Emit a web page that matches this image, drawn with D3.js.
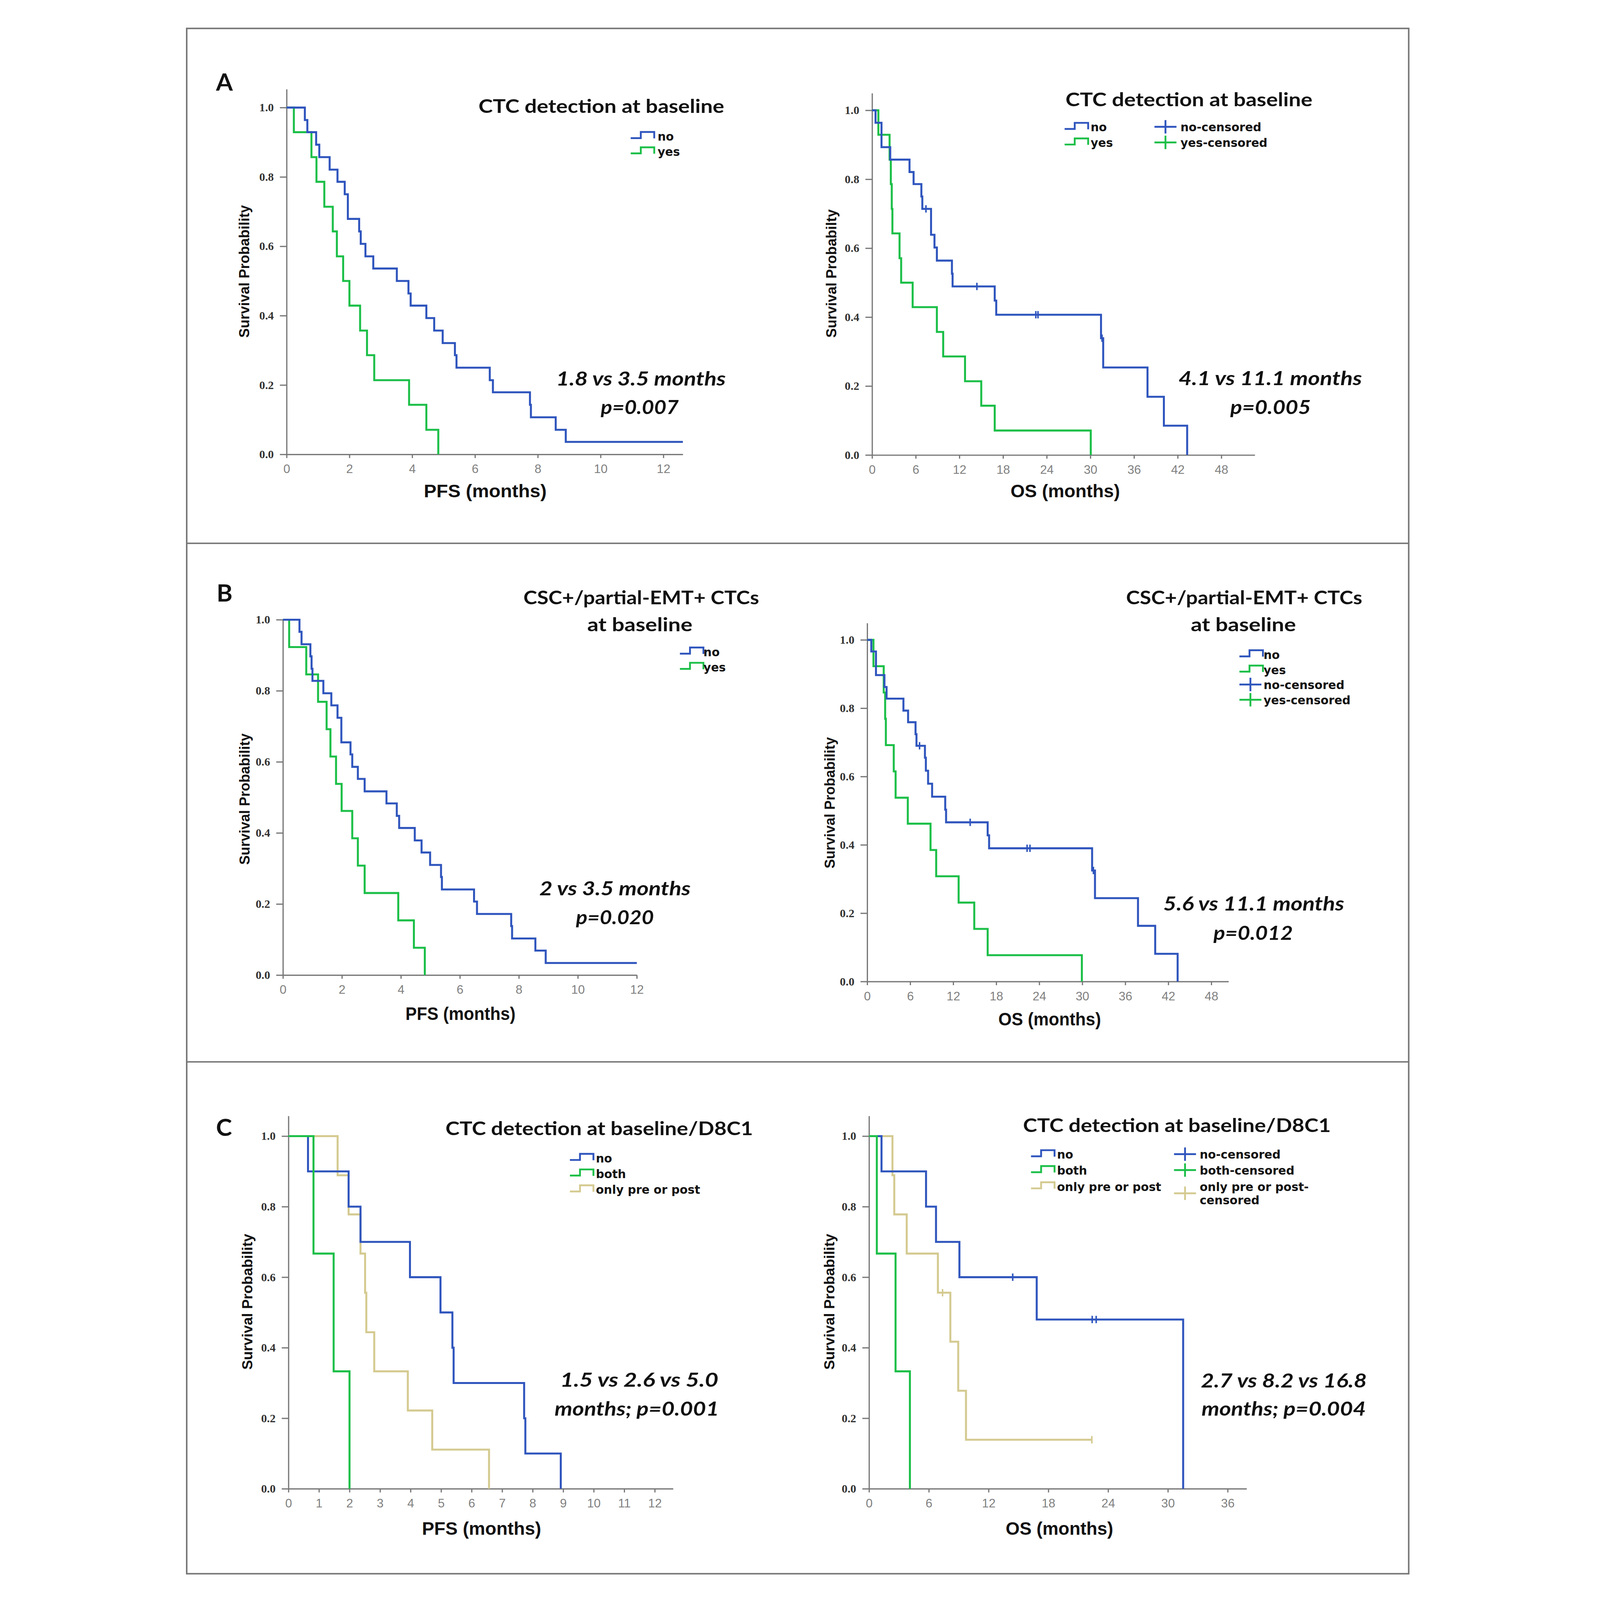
<!DOCTYPE html>
<html>
<head>
<meta charset="utf-8">
<script src="https://cdn.jsdelivr.net/npm/d3@7"></script>
<style>
  html, body { margin: 0; padding: 0; background: #fff; overflow: hidden; }
  svg { display: block; width: 100vw; height: 100vh; }
</style>
</head>
<body>
<script>
// Kaplan-Meier steps: time (months) and survival after each drop

// A - CTC detection at baseline, PFS
const aPfsNoT = [0, 0.58, 0.66, 0.94, 1.04, 1.37, 1.62, 1.85, 1.95, 2.31, 2.36, 2.51, 2.76, 3.51, 3.88, 3.95, 4.45, 4.70, 4.97, 5.36, 5.41, 6.47, 6.57, 7.75, 7.78, 8.57, 8.89, 12.62]
const aPfsNoS = [1, .964, .929, .893, .857, .821, .786, .75, .679, .643, .607, .571, .536, .5, .464, .429, .393, .357, .321, .286, .25, .214, .179, .143, .107, .071, .036, .036]
const aPfsYesT = [0, 0.23, 0.79, 0.95, 1.2, 1.47, 1.6, 1.8, 2.0, 2.34, 2.56, 2.79, 3.9, 4.45, 4.83]
const aPfsYesS = [1, .929, .857, .786, .714, .643, .571, .5, .429, .357, .286, .214, .143, .071, 0]

// A - CTC detection at baseline, OS
const aOsNoT = [0, 0.47, 1.29, 2.49, 5.14, 5.7, 6.77, 6.9, 8.1, 8.57, 8.9, 10.97, 11.06, 16.85, 17.06, 31.46, 31.76, 37.85, 40.1, 43.3]
const aOsNoS = [1, .964, .893, .857, .821, .786, .75, .714, .639, .602, .564, .526, .489, .448, .407, .339, .254, .169, .085, 0]
const aOsNoCensT = [7.4, 14.4, 22.5, 22.8, 31.6]
const aOsNoCensS = [.714, .489, .407, .407, .339]
const aOsYesT = [0, 0.86, 2.4, 2.57, 2.7, 2.79, 3.77, 3.99, 5.57, 8.9, 9.77, 12.77, 15.0, 16.85, 30.05]
const aOsYesS = [1, .929, .857, .786, .714, .643, .571, .5, .429, .357, .286, .214, .143, .071, 0]

// B - CSC+/partial-EMT+ CTCs, PFS
const bPfsNoT = [0, .56, .63, .93, .97, 1.0, 1.37, 1.64, 1.85, 1.98, 2.29, 2.35, 2.54, 2.77, 3.51, 3.86, 3.94, 4.47, 4.70, 4.99, 5.36, 5.39, 6.48, 6.58, 7.74, 7.77, 8.56, 8.91, 12]
const bPfsNoS = [1, .966, .931, .897, .862, .828, .793, .759, .724, .655, .621, .586, .552, .517, .483, .448, .414, .379, .345, .310, .276, .241, .207, .172, .138, .103, .069, .034, .034]
const bPfsYesT = [0, .21, .79, 1.19, 1.48, 1.61, 1.8, 1.99, 2.35, 2.54, 2.77, 3.91, 4.44, 4.81]
const bPfsYesS = [1, .923, .846, .769, .692, .615, .538, .462, .385, .308, .231, .154, .077, 0]

// B - CSC+/partial-EMT+ CTCs, OS
const bOsNoT = [0, .57, 1.22, 2.4, 2.7, 5.05, 5.7, 6.74, 6.87, 8.05, 8.18, 8.49, 9.05, 10.88, 11.0, 16.8, 17.0, 31.37, 31.77, 37.77, 40.17, 43.3]
const bOsNoS = [1, .966, .897, .862, .828, .793, .759, .724, .69, .655, .617, .579, .541, .503, .466, .428, .39, .325, .244, .163, .081, 0]
const bOsNoCensT = [7.3, 14.36, 22.3, 22.7, 31.55]
const bOsNoCensS = [.69, .466, .39, .39, .325]
const bOsYesT = [0, .87, 2.3, 2.5, 2.6, 3.7, 3.96, 5.66, 8.83, 9.62, 12.75, 14.93, 16.8, 29.94]
const bOsYesS = [1, .923, .846, .769, .692, .615, .538, .462, .385, .308, .231, .154, .077, 0]

// C - CTC detection at baseline/D8C1, PFS
const cPfsNoT = [0, .64, 1.97, 2.36, 3.98, 4.98, 5.37, 5.41, 7.72, 7.76, 8.92]
const cPfsNoS = [1, .9, .8, .7, .6, .5, .4, .3, .2, .1, 0]
const cPfsBothT = [0, .82, 1.48, 2.0]
const cPfsBothS = [1, .667, .333, 0]
const cPfsOnlyT = [0, 1.61, 1.97, 2.36, 2.51, 2.55, 2.81, 3.91, 4.71, 6.57]
const cPfsOnlyS = [1, .889, .778, .667, .556, .444, .333, .222, .111, 0]

// C - CTC detection at baseline/D8C1, OS
const cOsNoT = [0, 1.25, 5.72, 6.72, 9.07, 16.83, 31.53]
const cOsNoS = [1, .9, .8, .7, .6, .48, 0]
const cOsNoCensT = [14.42, 22.4, 22.8]
const cOsNoCensS = [.6, .48, .48]
const cOsBothT = [0, .78, 2.66, 4.1]
const cOsBothS = [1, .667, .333, 0]
const cOsOnlyT = [0, 2.35, 2.53, 3.78, 6.91, 8.16, 8.95, 9.73, 22.36]
const cOsOnlyS = [1, .889, .778, .667, .556, .417, .278, .139, .139]
const cOsOnlyCensT = [7.38, 22.36]
const cOsOnlyCensS = [.556, .139]

// tick labels
const survTicks = [0, 0.2, 0.4, 0.6, 0.8, 1.0]
const pfsTicks = [0, 2, 4, 6, 8, 10, 12]
const osTicks = [0, 6, 12, 18, 24, 30, 36, 42, 48]
const pfsTicksC = [0, 1, 2, 3, 4, 5, 6, 7, 8, 9, 10, 11, 12]
const osTicksC = [0, 6, 12, 18, 24, 30, 36]

// texts
const groupsAB = ["no", "yes"]
const groupsC = ["no", "both", "only pre or post"]
const titleA = "CTC detection at baseline"
const titleB = ["CSC+/partial-EMT+ CTCs", "at baseline"]
const titleC = "CTC detection at baseline/D8C1"
const notesA = [["1.8 vs 3.5 months", "p=0.007"], ["4.1 vs 11.1 months", "p=0.005"]]
const notesB = [["2 vs 3.5 months", "p=0.020"], ["5.6 vs 11.1 months", "p=0.012"]]
const notesC = [["1.5 vs 2.6 vs 5.0", "months; p=0.001"], ["2.7 vs 8.2 vs 16.8", "months; p=0.004"]]

const BLUE = "#2f55bd", GREEN = "#1cbf48", BEIGE = "#d4ca90", AXIS = "#777"
const SANS = "'Liberation Sans', Arial, sans-serif"
const CAL = "Lato, 'Open Sans', sans-serif"
const LEG = "'DejaVu Sans', Verdana, sans-serif"

const ser = (t, s, color, ct, cs) => ({
  pts: t.map((d, i) => [d, s[i]]),
  color,
  cens: ct ? ct.map((d, i) => [d, cs[i]]) : []
})

const panels = [
  { x0: 421, ppm: 102.75, xEnd: 12.62, ticks: pfsTicks, y1: 352, y0: 1487, top: 292,
    letter: {t: "A", x: 190, y: 297},
    title: [{t: titleA, x: 1049, y: 370, w: 804}],
    note: [{t: notesA[0][0], x: 1303, y: 1262, w: 555}, {t: notesA[0][1], x: 1449, y: 1355, w: 255}],
    xlab: {t: "PFS (months)", x: 870, y: 1627, w: 402},
    ylab: {t: "Survival Probability", x: 282, y: 888, w: 434},
    series: [ser(aPfsYesT, aPfsYesS, GREEN), ser(aPfsNoT, aPfsNoS, BLUE)],
    legend: [{kind: "step", sx: 1547, tx: 1635, rows: [[groupsAB[0], BLUE, 460], [groupsAB[1], GREEN, 510]]}] },

  { x0: 2337, ppm: 23.81, xEnd: 52.6, ticks: osTicks, y1: 361, y0: 1489, top: 305,
    title: [{t: titleA, x: 2970, y: 348, w: 808}],
    note: [{t: notesA[1][0], x: 3340, y: 1260, w: 600}, {t: notesA[1][1], x: 3509, y: 1355, w: 264}],
    xlab: {t: "OS (months)", x: 2790, y: 1627, w: 358},
    ylab: {t: "Survival Probabilty", x: 2204, y: 895, w: 420},
    series: [ser(aOsYesT, aOsYesS, GREEN), ser(aOsNoT, aOsNoS, BLUE, aOsNoCensT, aOsNoCensS)],
    legend: [{kind: "step", sx: 2967, tx: 3052, rows: [[groupsAB[0], BLUE, 430], [groupsAB[1], GREEN, 481]]},
             {kind: "plus", sx: 3261, tx: 3346, rows: [[groupsAB[0] + "-censored", BLUE, 430], [groupsAB[1] + "-censored", GREEN, 481]]}] },

  { x0: 409, ppm: 96.5, xEnd: 12, ticks: pfsTicks, y1: 2028, y0: 3191, top: 2028,
    letter: {t: "B", x: 192, y: 1968},
    title: [{t: titleB[0], x: 1196, y: 1978, w: 771}, {t: titleB[1], x: 1405, y: 2066, w: 344}],
    note: [{t: notesB[0][0], x: 1248, y: 2930, w: 495}, {t: notesB[0][1], x: 1368, y: 3025, w: 255}],
    xlab: {t: "PFS (months)", x: 810, y: 3338, w: 360},
    ylab: {t: "Survival Probability", x: 283, y: 2615, w: 430},
    series: [ser(bPfsYesT, bPfsYesS, GREEN), ser(bPfsNoT, bPfsNoS, BLUE)],
    legend: [{kind: "step", sx: 1708, tx: 1785, rows: [[groupsAB[0], BLUE, 2147], [groupsAB[1], GREEN, 2197]]}] },

  { x0: 2321, ppm: 23.46, xEnd: 50.4, ticks: osTicks, y1: 2094, y0: 3212, top: 2039,
    title: [{t: titleB[0], x: 3168, y: 1978, w: 773}, {t: titleB[1], x: 3380, y: 2066, w: 344}],
    note: [{t: notesB[1][0], x: 3290, y: 2980, w: 592}, {t: notesB[1][1], x: 3454, y: 3075, w: 260}],
    xlab: {t: "OS (months)", x: 2750, y: 3355, w: 336},
    ylab: {t: "Survival Probability", x: 2198, y: 2627, w: 430},
    series: [ser(bOsYesT, bOsYesS, GREEN), ser(bOsNoT, bOsNoS, BLUE, bOsNoCensT, bOsNoCensS)],
    legend: [{kind: "step", sx: 3539, tx: 3618, rows: [[groupsAB[0], BLUE, 2156], [groupsAB[1], GREEN, 2206]]},
             {kind: "plus", sx: 3539, tx: 3618, rows: [[groupsAB[0] + "-censored", BLUE, 2255], [groupsAB[1] + "-censored", GREEN, 2305]]}] },

  { x0: 427, ppm: 99.9, xEnd: 12.6, ticks: pfsTicksC, y1: 3718, y0: 4872, top: 3652,
    letter: {t: "C", x: 190, y: 3717},
    title: [{t: titleC, x: 941, y: 3715, w: 1006}],
    note: [{t: notesC[0][0], x: 1316, y: 4538, w: 518}, {t: notesC[0][1], x: 1298, y: 4632, w: 538}],
    xlab: {t: "PFS (months)", x: 864, y: 5022, w: 390},
    ylab: {t: "Survival Probability", x: 292, y: 4260, w: 445},
    series: [ser(cPfsOnlyT, cPfsOnlyS, BEIGE), ser(cPfsNoT, cPfsNoS, BLUE), ser(cPfsBothT, cPfsBothS, GREEN)],
    legend: [{kind: "step", sx: 1348, tx: 1433, rows: [[groupsC[0], BLUE, 3804], [groupsC[1], GREEN, 3855], [groupsC[2], BEIGE, 3907]]}] },

  { x0: 2327, ppm: 32.6, xEnd: 37.9, ticks: osTicksC, y1: 3718, y0: 4872, top: 3652,
    title: [{t: titleC, x: 2831, y: 3705, w: 1007}],
    note: [{t: notesC[1][0], x: 3413, y: 4540, w: 543}, {t: notesC[1][1], x: 3415, y: 4633, w: 538}],
    xlab: {t: "OS (months)", x: 2774, y: 5022, w: 352},
    ylab: {t: "Survival Probability", x: 2197, y: 4260, w: 445},
    series: [ser(cOsOnlyT, cOsOnlyS, BEIGE, cOsOnlyCensT, cOsOnlyCensS), ser(cOsNoT, cOsNoS, BLUE, cOsNoCensT, cOsNoCensS), ser(cOsBothT, cOsBothS, GREEN)],
    legend: [{kind: "step", sx: 2857, tx: 2942, rows: [[groupsC[0], BLUE, 3792], [groupsC[1], GREEN, 3844], [groupsC[2], BEIGE, 3897]]},
             {kind: "plus", sx: 3325, tx: 3409, rows: [[groupsC[0] + "-censored", BLUE, 3792], [groupsC[1] + "-censored", GREEN, 3844], [groupsC[2] + "-", BEIGE, 3897, "censored"]]}] }
]

var svg = d3.select("body").append("svg")
  .attr("viewBox", "0 0 4202 5236")
  .attr("preserveAspectRatio", "xMidYMin meet")

svg.append("rect").attr("width", 4202).attr("height", 5236).attr("fill", "#fff")

// frame and dividers
svg.append("rect")
  .attr("x", 94).attr("y", 93).attr("width", 3999).attr("height", 5057)
  .attr("fill", "none").attr("stroke", "#777").attr("stroke-width", 5)
;[1778, 3475].forEach(yy => svg.append("line")
  .attr("x1", 94).attr("x2", 4093).attr("y1", yy).attr("y2", yy)
  .attr("stroke", "#777").attr("stroke-width", 5))

function txt(g, o, font, size, weight, style) {
  return g.append("text")
    .attr("x", o.x).attr("y", o.y)
    .attr("font-family", font).attr("font-size", size)
    .attr("font-weight", weight).attr("font-style", style || "normal")
    .attr("textLength", o.w).attr("lengthAdjust", "spacingAndGlyphs")
    .attr("fill", "#111")
    .text(o.t)
}

panels.forEach(function(p) {
  var g = svg.append("g")

  var topVal = 1 + (p.y1 - p.top) / (p.y0 - p.y1)
  var x = d3.scaleLinear().domain([0, p.xEnd]).range([p.x0, p.x0 + p.ppm * p.xEnd])
  var y = d3.scaleLinear().domain([0, topVal]).range([p.y0, p.top])

  // y axis
  var ya = g.append("g")
    .attr("transform", "translate(" + p.x0 + ",0)")
    .call(d3.axisLeft(y).tickValues(survTicks).tickFormat(d3.format(".1f"))
      .tickSize(22).tickSizeOuter(0).tickPadding(20))
  ya.selectAll("path, line").attr("stroke", AXIS).attr("stroke-width", 4)
  ya.selectAll("text")
    .attr("font-family", "'Liberation Serif', 'Times New Roman', serif")
    .attr("font-size", 38).attr("font-weight", "bold").attr("fill", "#333")

  // x axis
  var xa = g.append("g")
    .attr("transform", "translate(0," + p.y0 + ")")
    .call(d3.axisBottom(x).tickValues(p.ticks).tickFormat(d3.format("d"))
      .tickSize(12).tickSizeOuter(0).tickPadding(21))
  xa.selectAll("path, line").attr("stroke", AXIS).attr("stroke-width", 4)
  xa.selectAll("text")
    .attr("font-family", SANS).attr("font-size", 40).attr("fill", "#808080")

  // survival curves
  var line = d3.line()
    .x(d => x(d[0]))
    .y(d => y(d[1]))
    .curve(d3.curveStepAfter)

  g.selectAll(".km")
    .data(p.series)
    .enter()
    .append("path")
    .attr("d", d => line(d.pts))
    .attr("fill", "none")
    .attr("stroke", d => d.color)
    .attr("stroke-width", 6.5)
    .attr("stroke-linejoin", "miter")

  // censored marks
  p.series.forEach(function(s) {
    g.selectAll(null)
      .data(s.cens)
      .enter()
      .append("line")
      .attr("x1", d => x(d[0])).attr("x2", d => x(d[0]))
      .attr("y1", d => y(d[1]) - 12).attr("y2", d => y(d[1]) + 12)
      .attr("stroke", s.color).attr("stroke-width", 5)
  })

  // texts
  if (p.letter) {
    g.append("text").attr("x", p.letter.x).attr("y", p.letter.y)
      .attr("font-family", CAL).attr("font-size", 79).attr("font-weight", "bold")
      .attr("fill", "#111").text(p.letter.t)
  }
  p.title.forEach(o => txt(g, o, CAL, 62, "bold"))
  p.note.forEach(o => txt(g, o, CAL, 64, "bold", "italic"))
  txt(g, p.xlab, SANS, 60, "bold")

  g.append("text")
    .attr("transform", "translate(" + p.ylab.x + "," + p.ylab.y + ") rotate(-90)")
    .attr("text-anchor", "middle").attr("dy", "0.35em")
    .attr("font-family", SANS).attr("font-size", 47).attr("font-weight", "bold")
    .attr("textLength", p.ylab.w).attr("lengthAdjust", "spacingAndGlyphs")
    .attr("fill", "#111")
    .text(p.ylab.t)

  // legend
  p.legend.forEach(function(col) {
    col.rows.forEach(function(r) {
      var b = r[2], sx = col.sx
      if (col.kind == "step") {
        g.append("path")
          .attr("d", "M" + sx + "," + (b - 8) + "H" + (sx + 33) + "V" + (b - 28) + "H" + (sx + 77) + "V" + (b - 7))
          .attr("fill", "none").attr("stroke", r[1]).attr("stroke-width", 6)
      } else {
        var cy = r[3] ? b + 8 : b - 15
        g.append("path")
          .attr("d", "M" + sx + "," + cy + "H" + (sx + 72) + "M" + (sx + 36) + "," + (cy - 22) + "V" + (cy + 22))
          .attr("fill", "none").attr("stroke", r[1]).attr("stroke-width", 6)
      }
      g.append("text").attr("x", col.tx).attr("y", b)
        .attr("font-family", LEG).attr("font-size", 38).attr("font-weight", "bold")
        .attr("fill", "#111").text(r[0])
      if (r[3]) {
        g.append("text").attr("x", col.tx).attr("y", b + 44)
          .attr("font-family", LEG).attr("font-size", 38).attr("font-weight", "bold")
          .attr("fill", "#111").text(r[3])
      }
    })
  })
})
</script>
</body>
</html>
